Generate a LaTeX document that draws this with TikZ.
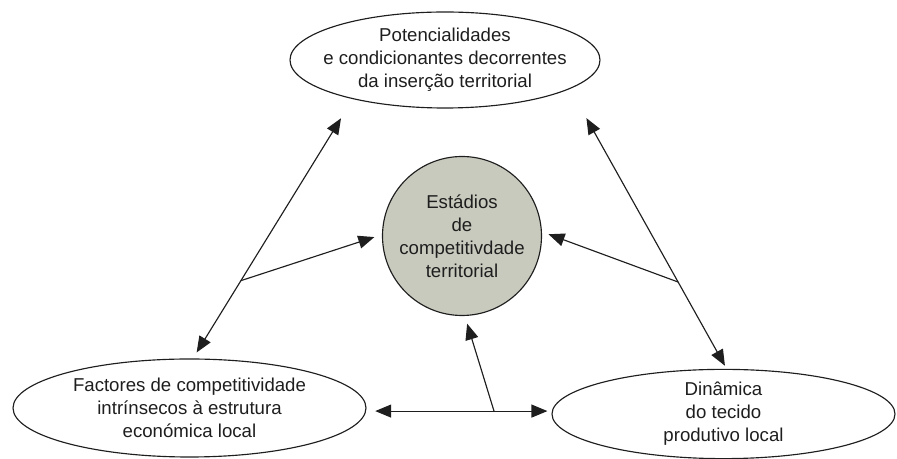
\documentclass[tikz,border=0pt]{standalone}
\usepackage{fontspec}
\setmainfont{Liberation Sans}
\usetikzlibrary{shapes.geometric,arrows.meta}
\definecolor{ink}{RGB}{30,30,30}
\definecolor{circgrey}{RGB}{200,202,190}

\begin{document}
\begin{tikzpicture}[
    font=\fontsize{10.6}{13}\selectfont, text=ink,
    oval/.style={ellipse, draw=ink, line width=0.65pt, inner xsep=-0.4cm, inner ysep=0pt, align=center},
    tip/.style={draw=ink, line width=0.65pt, -{Triangle[length=0.32cm,width=0.26cm]}},
    dbl/.style={draw=ink, line width=0.65pt, {Triangle[length=0.32cm,width=0.26cm]}-{Triangle[length=0.32cm,width=0.26cm]}}]
    \useasboundingbox (0,0) rectangle (17.94,9.18);
    \node[oval, minimum width=6.2cm, minimum height=1.92cm] at (8.90,7.98) (top) {Potencialidades\\ e condicionantes decorrentes\\ da inserção territorial};
    \node[circle, draw=ink, line width=0.65pt, fill=circgrey, minimum size=3.18cm, inner sep=0pt, align=center] at (9.24,4.46) (circ) {Estádios\\ de\\ competitivdade\\ territorial};
    \node[oval, minimum width=7.06cm, minimum height=1.96cm] at (3.79,1.02) (fac) {Factores de competitividade\\ intrínsecos à estrutura\\ económica local};
    \node[oval, minimum width=6.86cm, minimum height=1.76cm] at (14.47,0.90) (din) {Dinâmica\\ do tecido\\ produtivo local};
    % the three double arrows
    \draw[dbl, shorten <=0.45cm, shorten >=0.14cm] (top.203) -- coordinate[pos=0.70] (j1) (fac.86);
    \draw[dbl, shorten <=0.67cm, shorten >=0.07cm] (top.347) -- coordinate[pos=0.69] (j2) (din.86);
    \draw[dbl, shorten <=0.18cm, shorten >=0.08cm] (fac.-1.5) -- coordinate[pos=0.69] (j3) (fac.-1.5 -| din.west);
    % branches to the centre
    \draw[tip, shorten >=0.16cm] (j1) -- (circ.179);
    \draw[tip, shorten >=0.14cm] (j2) -- (circ.3);
    \draw[tip, shorten >=0.16cm] (j3) -- (circ.272);
\end{tikzpicture}
\end{document}
